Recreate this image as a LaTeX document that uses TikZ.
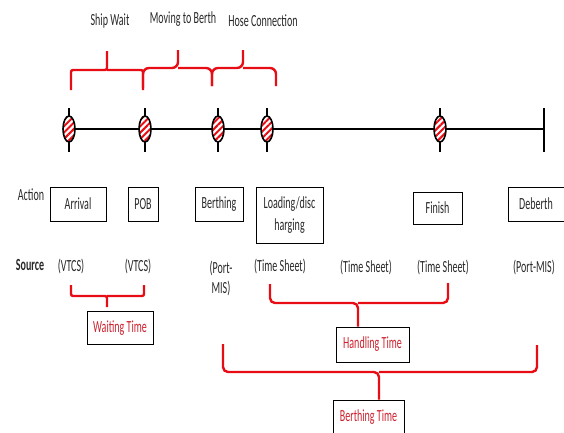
\documentclass[tikz,border=0pt]{standalone}
\usepackage{fontspec}
\setmainfont{Carlito}[FakeStretch=0.59]
\usetikzlibrary{shapes.geometric,patterns.meta}
\definecolor{brk}{RGB}{232,12,20}
\definecolor{lbl}{RGB}{205,32,45}
\definecolor{txt}{RGB}{40,40,40}

\tikzset{
  axis/.style={line width=2},
  event/.style={ellipse, draw, line width=1.6, minimum width=12, minimum height=26, inner sep=0,
    preaction={fill=white}, pattern={Lines[angle=45,distance=4.5pt,line width=2pt]}, pattern color=brk},
  actbox/.style={draw, line width=0.9, minimum height=34, inner sep=2, text=txt, align=center},
  timebox/.style={actbox, text=lbl},
  srctext/.style={text=txt, align=center, inner sep=1},
  bracket/.style={draw=brk, line width=2.4, rounded corners=2},
  curly/.style={draw=brk, line width=2.4, rounded corners=6},
}

\begin{document}
\begin{tikzpicture}[x=1pt, y=-1pt, font=\fontsize{17}{22}\selectfont]
    \useasboundingbox (0,0) rectangle (564,432);
    % time line with the events
    \foreach \n/\x in {1/69,2/145,3/218,4/267,5/440}
        \coordinate (t\n) at (\x,129);
    \coordinate (tend) at (544,129);
    \draw [axis] (t1) -- (tend);
    \draw [axis] ([yshift=21]tend) -- ([yshift=-23]tend);
    \foreach \n in {1,...,5} {
        \draw [axis] ([yshift=21]t\n) -- ([yshift=-23]t\n);
        \node [event] (e\n) at (t\n) {};
    }

    % phases above the line
    \node [text=txt] (shipwait) at (110,21) {Ship Wait};
    \node [text=txt] (moving) at (183,19) {Moving to Berth};
    \node [text=txt] (hose) at (263,21) {Hose Connection};
    \draw [bracket] (71,90) |- (107,70) -- (107,51);
    \draw [bracket] (143,90) |- (107,70);
    \draw [curly] (143,88) |- (178,68) -- (178,50);
    \draw [curly] (212,86) |- (178,68);
    \draw [curly] (212,86) |- (243,68) -- (243,50);
    \draw [curly] (276,86) |- (243,68);

    % actions
    \node [text=txt] (action) at (31,195) {Action};
    \node [actbox, minimum width=56] (arrival) at (78,204) {Arrival};
    \node [actbox, minimum width=30] (pob) at (143,204) {POB};
    \node [actbox, minimum width=48] (berthing) at (219,204) {Berthing};
    \node [actbox, minimum width=67, minimum height=56] (loading) at (289.5,215) {Loading/disc\\harging};
    \node [actbox, minimum width=49, minimum height=32] (finish) at (437.5,208) {Finish};
    \node [actbox, minimum width=56] (deberth) at (536,204) {Deberth};

    % sources
    \node [text=txt, font=\fontsize{17}{22}\selectfont\bfseries] (source) at (30,265) {Source};
    \node [srctext] (src1) at (71,266) {(VTCS)};
    \node [srctext] (src2) at (138,266) {(VTCS)};
    \node [srctext, font=\fontsize{17}{20}\selectfont] (src3) at (221,278) {(Port-\\MIS)};
    \node [srctext] (src4) at (280,266) {(Time Sheet)};
    \node [srctext] (src5) at (366,267) {(Time Sheet)};
    \node [srctext] (src6) at (443,267) {(Time Sheet)};
    \node [srctext] (src7) at (534,267) {(Port-MIS)};

    % times below
    \node [timebox, minimum width=66, minimum height=33] (waiting) at (120,328) {Waiting Time};
    \node [timebox, minimum width=73, minimum height=35] (handling) at (372.5,344.5) {Handling Time};
    \node [timebox, minimum width=71] (berthtime) at (368.5,417) {Berthing Time};
    \draw [bracket] (71,285) |- (107,296) -- (107,307);
    \draw [bracket] (144,285) |- (107,296);
    \coordinate (ht) at (358,303);
    \draw [curly, rounded corners=5] (270,284) |- (ht) -- (ht |- handling.north);
    \draw [curly, rounded corners=5] (448,283) |- (ht);
    \coordinate (bt) at (379,372);
    \draw [curly, rounded corners=5] (223,344) |- (bt) -- (bt |- berthtime.north);
    \draw [curly, rounded corners=5] (537,345) |- (bt);
\end{tikzpicture}
\end{document}
